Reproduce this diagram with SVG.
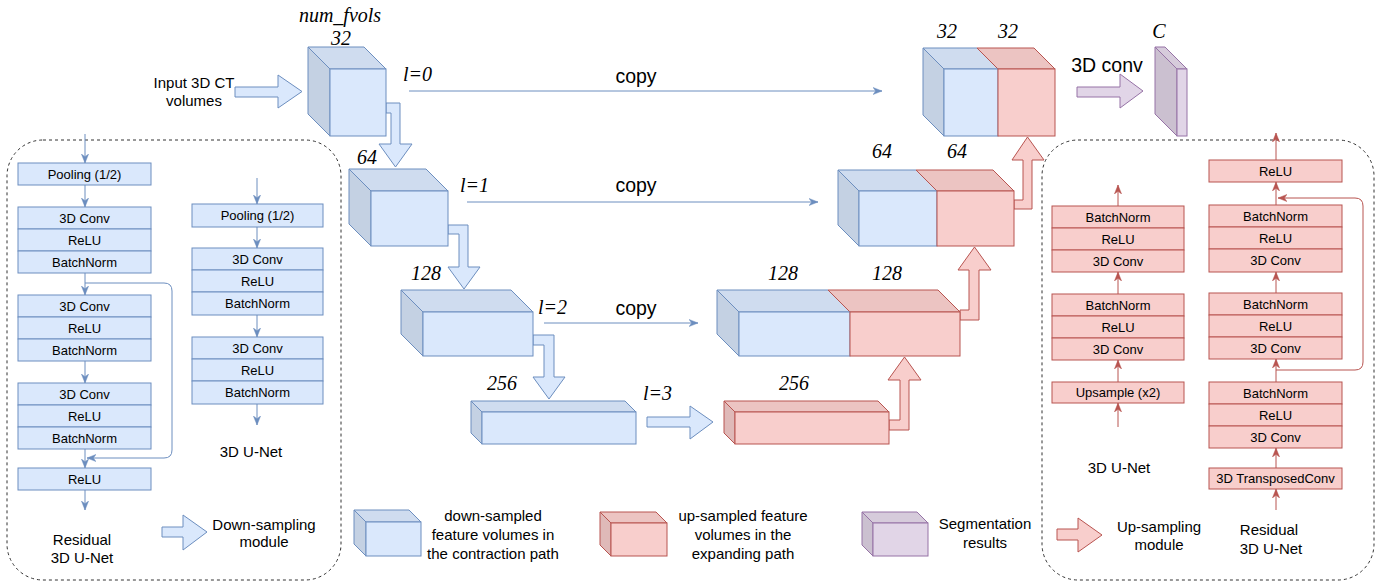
<svg xmlns="http://www.w3.org/2000/svg" width="1383" height="587" viewBox="0 0 1383 587">
<defs>
<style>
.bf{fill:#dae8fc;stroke:#6c8ebf;stroke-width:1}
.bt{fill:#cfdcef;stroke:#6c8ebf;stroke-width:1}
.bs{fill:#c4d1e3;stroke:#6c8ebf;stroke-width:1}
.rf{fill:#f8cecc;stroke:#b85450;stroke-width:1}
.rt{fill:#ecc4c2;stroke:#b85450;stroke-width:1}
.rs{fill:#dfb9b8;stroke:#b85450;stroke-width:1}
.pf{fill:#e1d5e7;stroke:#9673a6;stroke-width:1}
.pt{fill:#d6cbdb;stroke:#9673a6;stroke-width:1}
.ps{fill:#cbc0d0;stroke:#9673a6;stroke-width:1}
.t{font-family:"Liberation Sans",Arial,Helvetica,sans-serif;font-size:13px;text-anchor:middle;fill:#000}
.l{font-size:15px}
.c{font-size:19.5px}
.it{font-family:"Liberation Serif","Times New Roman",serif;font-style:italic;font-size:20px;text-anchor:middle;fill:#000}
.st{text-anchor:start}
.bl{stroke:#6c8ebf;stroke-width:1;fill:none;marker-end:url(#ab)}
.rl{stroke:#b85450;stroke-width:1;fill:none;marker-end:url(#ar)}
.dash{fill:none;stroke:#333;stroke-width:1;stroke-dasharray:3 3}
</style>
<marker id="ab" viewBox="0 0 10 10" refX="10" refY="5" markerWidth="9" markerHeight="9" markerUnits="userSpaceOnUse" orient="auto">
<path d="M0,1 L10,5 L0,9 L3,5 z" fill="#6c8ebf" stroke="#6c8ebf" stroke-width="0.5"/>
</marker>
<marker id="ar" viewBox="0 0 10 10" refX="10" refY="5" markerWidth="9" markerHeight="9" markerUnits="userSpaceOnUse" orient="auto">
<path d="M0,1 L10,5 L0,9 L3,5 z" fill="#b85450" stroke="#b85450" stroke-width="0.5"/>
</marker>
</defs>
<rect width="1383" height="587" fill="#ffffff"/>

<!-- panels -->
<g id="panel-left">
<rect class="dash" x="7" y="140" width="334" height="440" rx="36" ry="36"/>
</g>
<g id="panel-right">
<rect class="dash" x="1042" y="140" width="332" height="440" rx="36" ry="36"/>
</g>

<!-- connectors -->
<g id="connectors">
<line class="bl" x1="409" y1="91" x2="882" y2="91"/>
<line class="bl" x1="467" y1="202" x2="818" y2="202"/>
<line class="bl" x1="544" y1="323" x2="698" y2="323"/>
<!-- left panel residual -->
<line class="bl" x1="85" y1="134" x2="85" y2="163"/>
<line class="bl" x1="85" y1="185" x2="85" y2="207"/>
<line class="bl" x1="85" y1="273" x2="85" y2="295"/>
<line class="bl" x1="85" y1="361" x2="85" y2="383"/>
<line class="bl" x1="85" y1="449" x2="85" y2="468"/>
<line class="bl" x1="85" y1="490" x2="85" y2="510"/>
<path class="bl" d="M85,283 H164 Q172,283 172,291 V450 Q172,458 164,458 H87"/>
<!-- left panel plain -->
<line class="bl" x1="257" y1="178" x2="257" y2="204"/>
<line class="bl" x1="257" y1="227" x2="257" y2="248"/>
<line class="bl" x1="257" y1="315" x2="257" y2="337"/>
<line class="bl" x1="257" y1="404" x2="257" y2="425"/>
<!-- right panel plain -->
<line class="rl" x1="1118" y1="427" x2="1118" y2="403"/>
<line class="rl" x1="1118" y1="382" x2="1118" y2="360"/>
<line class="rl" x1="1118" y1="294" x2="1118" y2="272"/>
<line class="rl" x1="1118" y1="206" x2="1118" y2="185"/>
<!-- right panel residual -->
<line class="rl" x1="1276" y1="510" x2="1276" y2="489"/>
<line class="rl" x1="1276" y1="468" x2="1276" y2="448"/>
<line class="rl" x1="1276" y1="382" x2="1276" y2="359"/>
<line class="rl" x1="1276" y1="293" x2="1276" y2="272"/>
<line class="rl" x1="1276" y1="205" x2="1276" y2="182"/>
<line class="rl" x1="1276" y1="160" x2="1276" y2="133"/>
<path class="rl" d="M1276,370 H1355 Q1363,370 1363,362 V206 Q1363,198 1355,198 H1278"/>
</g>

<!-- block arrows -->
<g id="arrow-input"><polygon class="bf" points="235,87 278,87 278,75 302,91.5 278,108 278,97 235,97"/></g>
<g id="arrow-down-0"><polygon class="bf" points="386,103 400,103 400,144 412,144 395.5,167 379,144 391,144 391,113 386,113"/></g>
<g id="arrow-down-1"><polygon class="bf" points="448,225 468,225 468,267 480,267 464,289 448,267 459,267 459,234 448,234"/></g>
<g id="arrow-down-2"><polygon class="bf" points="533,335 554,335 554,377 565,377 549,399 533,377 544,377 544,345 533,345"/></g>
<g id="arrow-bottom"><polygon class="bf" points="647,417 690,417 690,406 713,422 690,439 690,427 647,427"/></g>
<g id="arrow-up-3"><polygon class="rf" points="889,420 900,420 900,380 888,380 904.5,357 921,380 909,380 909,430 889,430"/></g>
<g id="arrow-up-2"><polygon class="rf" points="960,310 969,310 969,270 958,270 974.5,247 991,270 979,270 979,320 960,320"/></g>
<g id="arrow-up-1"><polygon class="rf" points="1014,200 1023,200 1023,160 1012,160 1027.5,137 1044,160 1032,160 1032,209 1014,209"/></g>
<g id="arrow-conv"><polygon class="pf" points="1077,87 1120,87 1120,74 1143,91 1120,108 1120,97 1077,97"/></g>

<!-- encoder cubes -->
<g id="cube-enc-0">
<polygon class="bt" points="308,47 364,47 386,69 330,69"/>
<polygon class="bs" points="308,47 330,69 330,136 308,114"/>
<rect class="bf" x="330" y="69" width="56" height="67"/>
</g>
<g id="cube-enc-1">
<polygon class="bt" points="349,169 426,169 448,191 371,191"/>
<polygon class="bs" points="349,169 371,191 371,246 349,224"/>
<rect class="bf" x="371" y="191" width="77" height="55"/>
</g>
<g id="cube-enc-2">
<polygon class="bt" points="401,290 511,290 533,312 423,312"/>
<polygon class="bs" points="401,290 423,312 423,356 401,334"/>
<rect class="bf" x="423" y="312" width="110" height="44"/>
</g>
<g id="cube-enc-3">
<polygon class="bt" points="471,401 625,401 636,412 482,412"/>
<polygon class="bs" points="471,401 482,412 482,444 471,433"/>
<rect class="bf" x="482" y="412" width="154" height="32"/>
</g>

<!-- decoder cubes -->
<g id="cube-dec-3">
<polygon class="rt" points="724,401 878,401 889,412 735,412"/>
<polygon class="rs" points="724,401 735,412 735,444 724,433"/>
<rect class="rf" x="735" y="412" width="154" height="32"/>
</g>
<g id="cube-dec-2">
<polygon class="bt" points="717,290 828,290 850,312 739,312"/>
<polygon class="rt" points="828,290 938,290 960,312 850,312"/>
<polygon class="bs" points="717,290 739,312 739,356 717,334"/>
<rect class="bf" x="739" y="312" width="111" height="44"/>
<rect class="rf" x="850" y="312" width="110" height="44"/>
</g>
<g id="cube-dec-1">
<polygon class="bt" points="838,170 916,170 937,191 859,191"/>
<polygon class="rt" points="916,170 993,170 1014,191 937,191"/>
<polygon class="bs" points="838,170 859,191 859,246 838,225"/>
<rect class="bf" x="859" y="191" width="78" height="55"/>
<rect class="rf" x="937" y="191" width="77" height="55"/>
</g>
<g id="cube-dec-0">
<polygon class="bt" points="923,48 977,48 998,69 944,69"/>
<polygon class="rt" points="977,48 1034,48 1055,69 998,69"/>
<polygon class="bs" points="923,48 944,69 944,136 923,115"/>
<rect class="bf" x="944" y="69" width="54" height="67"/>
<rect class="rf" x="998" y="69" width="57" height="67"/>
</g>
<g id="output-slab">
<polygon class="pt" points="1155,47 1165,47 1187,69 1177,69"/>
<polygon class="ps" points="1155,47 1177,69 1177,136 1155,114"/>
<rect class="pf" x="1177" y="69" width="10" height="67"/>
</g>

<!-- labels -->
<g id="labels">
<text class="t l" x="194" y="88">Input 3D CT</text>
<text class="t l" x="194" y="106">volumes</text>
<text class="it" x="340" y="22">num_fvols</text>
<text class="it" x="341" y="45">32</text>
<text class="it st" x="403" y="81">l=0</text>
<text class="t c" x="636" y="83">copy</text>
<text class="it" x="367" y="164">64</text>
<text class="it st" x="460" y="192">l=1</text>
<text class="t c" x="636" y="192">copy</text>
<text class="it" x="426" y="280">128</text>
<text class="it st" x="538" y="314">l=2</text>
<text class="t c" x="636" y="315">copy</text>
<text class="it" x="502" y="390">256</text>
<text class="it st" x="643" y="400">l=3</text>
<text class="it" x="794" y="390">256</text>
<text class="it" x="783" y="280">128</text>
<text class="it" x="887" y="280">128</text>
<text class="it" x="882" y="158">64</text>
<text class="it" x="957" y="158">64</text>
<text class="it" x="947" y="38">32</text>
<text class="it" x="1008" y="38">32</text>
<text class="it" x="1159" y="38">C</text>
<text class="t c" x="1107" y="72">3D conv</text>
</g>

<!-- left panel: residual 3D U-Net (down) -->
<g id="res-down">
<rect class="bf" x="18" y="163" width="133" height="22"/><text class="t" x="84.5" y="178.5">Pooling (1/2)</text>
<rect class="bf" x="18" y="207" width="133" height="22"/><text class="t" x="84.5" y="222.5">3D Conv</text>
<rect class="bf" x="18" y="229" width="133" height="22"/><text class="t" x="84.5" y="244.5">ReLU</text>
<rect class="bf" x="18" y="251" width="133" height="22"/><text class="t" x="84.5" y="266.5">BatchNorm</text>
<rect class="bf" x="18" y="295" width="133" height="22"/><text class="t" x="84.5" y="310.5">3D Conv</text>
<rect class="bf" x="18" y="317" width="133" height="22"/><text class="t" x="84.5" y="332.5">ReLU</text>
<rect class="bf" x="18" y="339" width="133" height="22"/><text class="t" x="84.5" y="354.5">BatchNorm</text>
<rect class="bf" x="18" y="383" width="133" height="22"/><text class="t" x="84.5" y="398.5">3D Conv</text>
<rect class="bf" x="18" y="405" width="133" height="22"/><text class="t" x="84.5" y="420.5">ReLU</text>
<rect class="bf" x="18" y="427" width="133" height="22"/><text class="t" x="84.5" y="442.5">BatchNorm</text>
<rect class="bf" x="18" y="468" width="133" height="22"/><text class="t" x="84.5" y="483.5">ReLU</text>
<text class="t l" x="82" y="545">Residual</text>
<text class="t l" x="82" y="563">3D U-Net</text>
</g>
<g id="unet-down">
<rect class="bf" x="192" y="204" width="131" height="23"/><text class="t" x="257.5" y="220">Pooling (1/2)</text>
<rect class="bf" x="192" y="248" width="131" height="22"/><text class="t" x="257.5" y="263.5">3D Conv</text>
<rect class="bf" x="192" y="270" width="131" height="22"/><text class="t" x="257.5" y="285.5">ReLU</text>
<rect class="bf" x="192" y="292" width="131" height="23"/><text class="t" x="257.5" y="308">BatchNorm</text>
<rect class="bf" x="192" y="337" width="131" height="22"/><text class="t" x="257.5" y="352.5">3D Conv</text>
<rect class="bf" x="192" y="359" width="131" height="22"/><text class="t" x="257.5" y="374.5">ReLU</text>
<rect class="bf" x="192" y="381" width="131" height="23"/><text class="t" x="257.5" y="397">BatchNorm</text>
<text class="t l" x="251" y="457">3D U-Net</text>
</g>
<g id="legend-down">
<polygon class="bf" points="162,527 183,527 183,515 207,532 183,550 183,537 162,537"/>
<text class="t l" x="264" y="530">Down-sampling</text>
<text class="t l" x="264" y="547">module</text>
</g>

<!-- right panel -->
<g id="unet-up">
<rect class="rf" x="1052" y="206" width="132" height="22"/><text class="t" x="1118" y="221.5">BatchNorm</text>
<rect class="rf" x="1052" y="228" width="132" height="22"/><text class="t" x="1118" y="243.5">ReLU</text>
<rect class="rf" x="1052" y="250" width="132" height="22"/><text class="t" x="1118" y="265.5">3D Conv</text>
<rect class="rf" x="1052" y="294" width="132" height="22"/><text class="t" x="1118" y="309.5">BatchNorm</text>
<rect class="rf" x="1052" y="316" width="132" height="22"/><text class="t" x="1118" y="331.5">ReLU</text>
<rect class="rf" x="1052" y="338" width="132" height="22"/><text class="t" x="1118" y="353.5">3D Conv</text>
<rect class="rf" x="1052" y="382" width="132" height="21"/><text class="t" x="1118" y="397">Upsample (x2)</text>
<text class="t l" x="1119" y="473">3D U-Net</text>
</g>
<g id="res-up">
<rect class="rf" x="1209" y="160" width="133" height="22"/><text class="t" x="1275.5" y="175.5">ReLU</text>
<rect class="rf" x="1209" y="205" width="133" height="22"/><text class="t" x="1275.5" y="220.5">BatchNorm</text>
<rect class="rf" x="1209" y="227" width="133" height="22"/><text class="t" x="1275.5" y="242.5">ReLU</text>
<rect class="rf" x="1209" y="249" width="133" height="23"/><text class="t" x="1275.5" y="265">3D Conv</text>
<rect class="rf" x="1209" y="293" width="133" height="22"/><text class="t" x="1275.5" y="308.5">BatchNorm</text>
<rect class="rf" x="1209" y="315" width="133" height="22"/><text class="t" x="1275.5" y="330.5">ReLU</text>
<rect class="rf" x="1209" y="337" width="133" height="22"/><text class="t" x="1275.5" y="352.5">3D Conv</text>
<rect class="rf" x="1209" y="382" width="133" height="22"/><text class="t" x="1275.5" y="397.5">BatchNorm</text>
<rect class="rf" x="1209" y="404" width="133" height="22"/><text class="t" x="1275.5" y="419.5">ReLU</text>
<rect class="rf" x="1209" y="426" width="133" height="22"/><text class="t" x="1275.5" y="441.5">3D Conv</text>
<rect class="rf" x="1209" y="468" width="133" height="21"/><text class="t" x="1275.5" y="483">3D TransposedConv</text>
<text class="t l" x="1269" y="535">Residual</text>
<text class="t l" x="1271" y="554">3D U-Net</text>
</g>
<g id="legend-up">
<polygon class="rf" points="1057,529 1078,529 1078,518 1102,535 1078,552 1078,540 1057,540"/>
<text class="t l" x="1159" y="532">Up-sampling</text>
<text class="t l" x="1159" y="550">module</text>
</g>

<!-- legend -->
<g id="legend-blue">
<polygon class="bt" points="354,510 409,510 421,522 366,522"/>
<polygon class="bs" points="354,510 366,522 366,556 354,544"/>
<rect class="bf" x="366" y="522" width="55" height="34"/>
<text class="t l" x="493" y="521">down-sampled</text>
<text class="t l" x="493" y="540">feature volumes in</text>
<text class="t l" x="493" y="559">the contraction path</text>
</g>
<g id="legend-red">
<polygon class="rt" points="600,512 656,512 667,523 611,523"/>
<polygon class="rs" points="600,512 611,523 611,556 600,545"/>
<rect class="rf" x="611" y="523" width="56" height="33"/>
<text class="t l" x="743" y="521">up-sampled feature</text>
<text class="t l" x="743" y="540">volumes in the</text>
<text class="t l" x="743" y="559">expanding path</text>
</g>
<g id="legend-purple">
<polygon class="pt" points="862,512 917,512 928,523 873,523"/>
<polygon class="ps" points="862,512 873,523 873,556 862,545"/>
<rect class="pf" x="873" y="523" width="55" height="33"/>
<text class="t l" x="985" y="529">Segmentation</text>
<text class="t l" x="985" y="548">results</text>
</g>
</svg>
